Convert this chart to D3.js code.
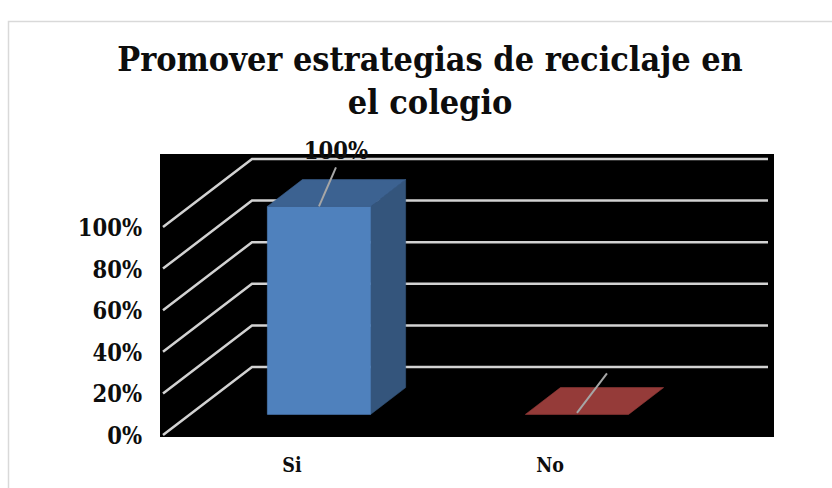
<!DOCTYPE html>
<html><head><meta charset="utf-8">
<script src="https://cdn.jsdelivr.net/npm/d3@7"></script>
<style>
html,body{margin:0;padding:0;background:#fff}
svg{display:block}
text{font-family:"DejaVu Serif","Liberation Serif",serif;font-stretch:condensed;font-weight:700;fill:#0d0d0d}
</style></head><body>
<script>
const categories = ["Si", "No"];
const values = [1, 0];
const tickValues = [0, 0.2, 0.4, 0.6, 0.8, 1];
const titleLines = ["Promover estrategias de reciclaje en", "el colegio"];
const labels = ["100%", ""];
const frontColors = ["#4f81bd", "#953b39"];
const topColors = ["#3c6291", "#953b39"];
const sideColors = ["#34557c", "#953b39"];

const W = 832, H = 488;
const svg = d3.select("body").append("svg").attr("width", W).attr("height", H);

// outer chart frame
svg.append("path").attr("d", `M8.5,${H} V21.5 H${W}`).attr("fill", "none")
  .attr("stroke", "#d9d9d9").attr("stroke-width", 1.5);

// title
svg.append("g").selectAll("text").data(titleLines).join("text")
  .attr("x", 430).attr("y", (d, i) => 71 + i * 42.5)
  .attr("text-anchor", "middle").attr("font-size", 33.9).text(d => d);

// plot backdrop
svg.append("rect").attr("x", 160).attr("y", 154).attr("width", 614).attr("height", 283).attr("fill", "#000");

const x = d3.scaleBand().domain(categories).range([163, 679]).paddingInner(0.6).paddingOuter(0.3);
const y = d3.scaleLinear().domain([0, 1]).range([435, 227]);
const DX = 89, DY = -68;
const px = (xv, z) => xv + DX * z;
const py = (v, z) => y(v) + DY * z;
const Z0 = 0.303, Z1 = 0.697;

// gridlines (side wall + back wall)
svg.append("g").selectAll("path").data(tickValues).join("path")
  .attr("d", v => `M${px(163, 0)},${py(v, 0)} L${px(163, 1)},${py(v, 1)} L${px(679, 1)},${py(v, 1)}`)
  .attr("fill", "none").attr("stroke", "#d2d2d2").attr("stroke-width", 2.5);

// axes
const yAxis = svg.append("g").attr("transform", "translate(142,0)")
  .call(d3.axisLeft(y).tickValues(tickValues).tickFormat(d3.format(".0%")).tickSize(0).tickPadding(0));
yAxis.select(".domain").remove();
yAxis.selectAll("text").attr("font-size", 23.5).attr("dy", "0.36em").style("font-family", null);

const xAxis = svg.append("g").attr("transform", "translate(0,458)")
  .call(d3.axisBottom(x).tickSize(0).tickPadding(0));
xAxis.select(".domain").remove();
xAxis.selectAll("text").attr("font-size", 19.5).attr("dy", "0.71em").style("font-family", null);
yAxis.attr("font-family", null); xAxis.attr("font-family", null);

// bars
const poly = pts => "M" + pts.map(p => p.join(",")).join("L") + "Z";
const bars = svg.append("g").selectAll("g").data(categories).join("g");
bars.each(function (c, i) {
  const g = d3.select(this), v = values[i];
  const a = x(c), b = a + x.bandwidth();
  const face = (col, pts) => g.append("path").attr("fill", col).attr("stroke", col).attr("stroke-width", 0.6).attr("d", poly(pts));
  if (v > 0) {
    face(sideColors[i], [
      [px(b, Z0), py(0, Z0)], [px(b, Z1), py(0, Z1)], [px(b, Z1), py(v, Z1)], [px(b, Z0), py(v, Z0)]]);
    face(frontColors[i], [
      [px(a, Z0), py(0, Z0)], [px(b, Z0), py(0, Z0)], [px(b, Z0), py(v, Z0)], [px(a, Z0), py(v, Z0)]]);
  }
  face(topColors[i], [
    [px(a, Z0), py(v, Z0)], [px(b, Z0), py(v, Z0)], [px(b, Z1), py(v, Z1)], [px(a, Z1), py(v, Z1)]]);
  // leader line
  const cx = px(a + x.bandwidth() / 2, Z0), cy = py(v, Z0);
  const off = i === 0 ? [17, -39] : [30, -41];
  g.append("line").attr("x1", cx).attr("y1", cy - (i ? 1.5 : 0)).attr("x2", cx + off[0]).attr("y2", cy + off[1])
    .attr("stroke", "#a6a6a6").attr("stroke-width", 2);
  if (labels[i]) g.append("text").attr("x", cx + 17).attr("y", cy - 47).attr("text-anchor", "middle")
    .attr("font-size", 23.5).text(labels[i]);
});
</script>
</body></html>
